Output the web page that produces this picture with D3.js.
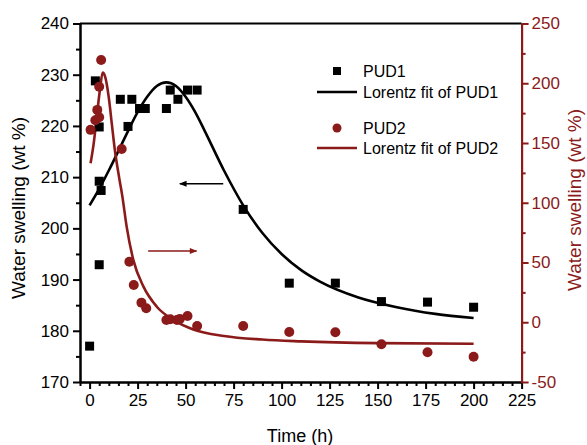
<!DOCTYPE html>
<html>
<head>
<meta charset="utf-8">
<style>
  body { margin: 0; background: #fff; }
  svg text { font-family: "Liberation Sans", Arial, sans-serif; }
  .axis path, .axis line { stroke-width: 2; }
</style>
</head>
<body>
<svg width="587" height="445"></svg>
<script src="https://d3js.org/d3.v7.min.js"></script>
<script>
// PUD1 measured points (left axis)
var pud1Time = [0, 3, 5, 5, 5, 6, 16, 20, 22, 26, 29, 40, 42, 46, 51, 56, 80, 104, 128, 152, 176, 200];
var pud1Swell = [177, 228.8, 219.8, 209.2, 192.9, 207.4, 225.2, 219.9, 225.2, 223.4, 223.4, 223.4, 227, 225.2, 227, 227, 203.7, 189.3, 189.3, 185.7, 185.6, 184.6];

// PUD2 measured points (right axis)
var pud2Time = [0.5, 3, 4, 5, 5, 6, 16.7, 20.7, 23, 27, 29.5, 40, 42, 45.5, 47, 51, 56, 80, 104, 128, 152, 176, 200];
var pud2Swell = [161, 169, 177.7, 171.5, 197, 219.5, 145, 50.7, 31.2, 16.4, 11.7, 1.9, 2.5, 1.9, 2.8, 5.3, -3.1, -3.1, -8.1, -8.4, -18.4, -25.1, -28.8];

// Lorentz fit curves
var fit1Time = [0, 5, 10, 15, 20, 25, 30, 35, 40, 45, 50, 55, 60, 70, 80, 90, 100, 110, 120, 140, 160, 180, 200];
var fit1Swell = [204.5, 207.7, 211.3, 215.1, 219.0, 222.7, 225.7, 227.8, 228.5, 227.8, 225.7, 222.7, 219.0, 211.3, 204.5, 199.1, 195.0, 191.9, 189.6, 186.5, 184.6, 183.3, 182.5];
var fit2Time = [0.5, 2, 4, 5.5, 6.8, 8, 10, 11.5, 13, 15.5, 17, 19.3, 22.8, 28, 35, 43.6, 54, 70, 90, 110, 150, 200];
var fit2Swell = [133, 148, 176, 196, 209, 206, 188, 167, 146, 120, 106, 80, 52, 30, 13, 2, -6, -11.5, -14.5, -16, -17.5, -18];

var leftTicks = [170, 180, 190, 200, 210, 220, 230, 240];
var rightTicks = [-50, 0, 50, 100, 150, 200, 250];
var timeTicks = [0, 25, 50, 75, 100, 125, 150, 175, 200, 225];

var red = "#8b1a1a";
var svg = d3.select("svg");

var x = d3.scaleLinear().domain([-5, 225]).range([80, 521.6]);
var yL = d3.scaleLinear().domain([170, 240]).range([382, 23.5]);
var yR = d3.scaleLinear().domain([-50, 250]).range([382, 23.5]);

// minor ticks
var xMinor = d3.range(-5, 226, 5).filter(function(v) { return v % 25 !== 0; });
var yLMinor = d3.range(175, 240, 10);
var yRMinor = d3.range(-25, 250, 50);

svg.append("g").attr("class", "axis").attr("transform", "translate(0,382)")
  .call(d3.axisBottom(x).tickValues(xMinor).tickSize(4).tickSizeOuter(0).tickFormat(""));
svg.append("g").attr("class", "axis").attr("transform", "translate(0,382)")
  .call(d3.axisBottom(x).tickValues(timeTicks).tickSize(7).tickSizeOuter(0).tickPadding(5))
  .selectAll("text").style("font-size", "17px").attr("fill", "#000");

svg.append("g").attr("class", "axis").attr("transform", "translate(80,0)")
  .call(d3.axisLeft(yL).tickValues(yLMinor).tickSize(4).tickSizeOuter(0).tickFormat(""));
svg.append("g").attr("class", "axis").attr("transform", "translate(80,0)")
  .call(d3.axisLeft(yL).tickValues(leftTicks).tickSize(7).tickSizeOuter(0).tickPadding(4))
  .selectAll("text").style("font-size", "17px").attr("fill", "#000");

var rMin = svg.append("g").attr("class", "axis").attr("transform", "translate(521.6,0)")
  .call(d3.axisRight(yR).tickValues(yRMinor).tickSize(4).tickSizeOuter(0).tickFormat(""));
var rMaj = svg.append("g").attr("class", "axis").attr("transform", "translate(521.6,0)")
  .call(d3.axisRight(yR).tickValues(rightTicks).tickSize(7).tickSizeOuter(0).tickPadding(3)
    .tickFormat(function(d) { return d < 0 ? "-" + Math.abs(d) : d; }));
rMaj.selectAll("text").style("font-size", "17px").attr("fill", red);
[rMin, rMaj].forEach(function(g) {
  g.selectAll("path, line").attr("stroke", red);
});

// top frame line
svg.append("line")
  .attr("x1", 80).attr("x2", 521.6).attr("y1", 23.5).attr("y2", 23.5)
  .attr("stroke", "#000").attr("stroke-width", 2);

// fit curves
var line1 = d3.line().x(function(d) { return x(d[0]); }).y(function(d) { return yL(d[1]); }).curve(d3.curveMonotoneX);
var line2 = d3.line().x(function(d) { return x(d[0]); }).y(function(d) { return yR(d[1]); }).curve(d3.curveMonotoneX);

svg.append("path")
  .datum(d3.zip(fit1Time, fit1Swell))
  .attr("d", line1).attr("fill", "none").attr("stroke", "#000").attr("stroke-width", 2.6);
svg.append("path")
  .datum(d3.zip(fit2Time, fit2Swell))
  .attr("d", line2).attr("fill", "none").attr("stroke", red).attr("stroke-width", 2.6);

// points
svg.append("g").selectAll("rect")
  .data(d3.zip(pud1Time, pud1Swell))
  .enter().append("rect")
  .attr("x", function(d) { return x(d[0]) - 4.5; })
  .attr("y", function(d) { return yL(d[1]) - 4.5; })
  .attr("width", 9).attr("height", 9).attr("fill", "#000");

svg.append("g").selectAll("circle")
  .data(d3.zip(pud2Time, pud2Swell))
  .enter().append("circle")
  .attr("cx", function(d) { return x(d[0]); })
  .attr("cy", function(d) { return yR(d[1]); })
  .attr("r", 5).attr("fill", red);

// arrows
var defs = svg.append("defs");
function marker(id, color) {
  defs.append("marker").attr("id", id)
    .attr("viewBox", "0 0 10 10").attr("refX", 9).attr("refY", 5)
    .attr("markerWidth", 6).attr("markerHeight", 5).attr("orient", "auto")
    .append("path").attr("d", "M0,1 L10,5 L0,9 Z").attr("fill", color);
}
marker("ab", "#000");
marker("ar", red);

svg.append("line")
  .attr("x1", x(69.6)).attr("x2", x(47)).attr("y1", yL(208.7)).attr("y2", yL(208.7))
  .attr("stroke", "#000").attr("stroke-width", 1.5).attr("marker-end", "url(#ab)");
svg.append("line")
  .attr("x1", x(30.5)).attr("x2", x(55.7)).attr("y1", yR(59.7)).attr("y2", yR(59.7))
  .attr("stroke", red).attr("stroke-width", 1.5).attr("marker-end", "url(#ar)");

// legend
var lg = svg.append("g").style("font-size", "16px");
lg.append("rect").attr("x", 333).attr("y", 67).attr("width", 8).attr("height", 8).attr("fill", "#000");
lg.append("text").attr("x", 363).attr("y", 71).attr("dy", "0.35em").text("PUD1");
lg.append("line").attr("x1", 317).attr("x2", 357).attr("y1", 92).attr("y2", 92).attr("stroke", "#000").attr("stroke-width", 2.6);
lg.append("text").attr("x", 363).attr("y", 92).attr("dy", "0.35em").text("Lorentz fit of PUD1");
lg.append("circle").attr("cx", 337).attr("cy", 128).attr("r", 4.5).attr("fill", red);
lg.append("text").attr("x", 363).attr("y", 128).attr("dy", "0.35em").text("PUD2");
lg.append("line").attr("x1", 317).attr("x2", 357).attr("y1", 148).attr("y2", 148).attr("stroke", red).attr("stroke-width", 2.6);
lg.append("text").attr("x", 363).attr("y", 148).attr("dy", "0.35em").text("Lorentz fit of PUD2");

// axis titles
svg.append("text").attr("x", 300).attr("y", 442).attr("text-anchor", "middle")
  .style("font-size", "18px").text("Time (h)");
svg.append("text").attr("transform", "translate(25,208) rotate(-90)").attr("text-anchor", "middle")
  .style("font-size", "19px").text("Water swelling (wt %)");
svg.append("text").attr("transform", "translate(581,200) rotate(-90)").attr("text-anchor", "middle")
  .style("font-size", "19px").attr("fill", red).text("Water swelling (wt %)");
</script>
</body>
</html>
